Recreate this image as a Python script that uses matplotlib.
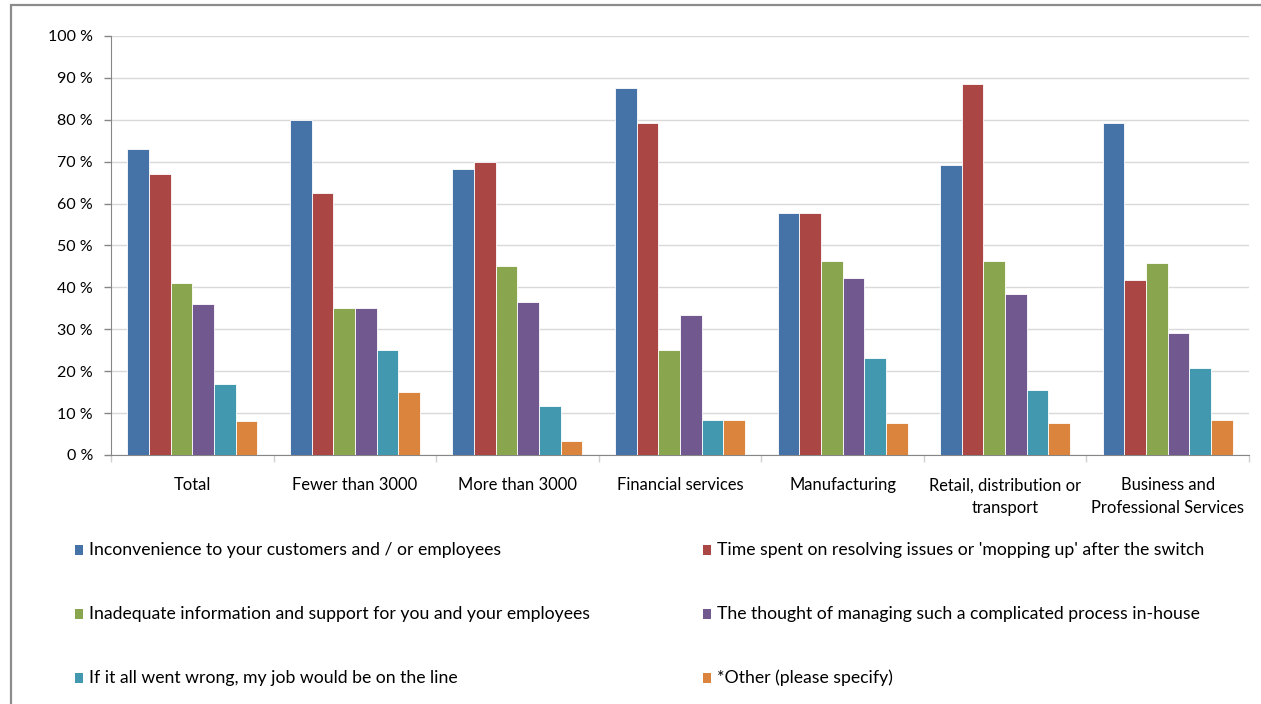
import matplotlib
matplotlib.use("Agg")
import matplotlib.pyplot as plt
from matplotlib.patches import Rectangle
import numpy as np

categories = [
    "Total",
    "Fewer than 3000",
    "More than 3000",
    "Financial services",
    "Manufacturing",
    "Retail, distribution or\ntransport",
    "Business and\nProfessional Services",
]

series_names = [
    "Inconvenience to your customers and / or employees",
    "Time spent on resolving issues or 'mopping up' after the switch",
    "Inadequate information and support for you and your employees",
    "The thought of managing such a complicated process in-house",
    "If it all went wrong, my job would be on the line",
    "*Other (please specify)",
]

# percentages per series, one value per category
inconvenience = [73.0, 80.0, 68.3, 87.5, 57.7, 69.2, 79.2]
time_spent = [67.0, 62.5, 70.0, 79.2, 57.7, 88.5, 41.7]
inadequate_info = [41.0, 35.0, 45.0, 25.0, 46.2, 46.2, 45.8]
managing_in_house = [36.0, 35.0, 36.5, 33.3, 42.3, 38.5, 29.2]
job_on_line = [17.0, 25.0, 11.6, 8.3, 23.1, 15.4, 20.8]
other = [8.0, 15.0, 3.3, 8.3, 7.7, 7.7, 8.3]

series_values = [inconvenience, time_spent, inadequate_info,
                 managing_in_house, job_on_line, other]
colors = ["#4572A7", "#AA4643", "#89A54E", "#71588F", "#4198AF", "#DB843D"]

plt.rcParams['font.family'] = ['Lato', 'DejaVu Sans']
W, H = 1261, 704
fig = plt.figure(figsize=(W / 100, H / 100), dpi=100)

# outer chart frame
fig.add_artist(Rectangle((11 / W, -0.1), 1.2, (H - 5) / H + 0.1,
                         transform=fig.transFigure, fill=False,
                         edgecolor="#8c8c8c", linewidth=1.6))

ax = fig.add_axes([111 / W, 249 / H, (1249 - 111) / W, 419 / H])

n_series = len(series_values)
x = np.arange(len(categories))
bar_w = 0.8 / n_series
for i, (vals, c) in enumerate(zip(series_values, colors)):
    offs = (i - (n_series - 1) / 2) * bar_w
    ax.bar(x + offs, vals, width=bar_w, color=c, edgecolor="white",
           linewidth=0.6, zorder=3)

ax.set_xlim(-0.5, len(categories) - 0.5)
ax.set_ylim(0, 100)
ax.set_yticks(np.arange(0, 101, 10))
ax.set_yticklabels([f"{v} %" for v in range(0, 101, 10)], fontsize=11.5,
                   color="#000000")
ax.yaxis.grid(True, color="#d9d9d9", linewidth=1, zorder=0)
ax.set_axisbelow(True)
ax.tick_params(axis="y", length=5, width=1, color="#868686", pad=8)

# category boundary ticks, labels at group centres
ax.set_xticks(np.arange(-0.5, len(categories), 1.0))
ax.set_xticklabels([])
ax.tick_params(axis="x", which="major", length=5, width=1, color="#d0d0d0")
ax.set_xticks(x, minor=True)
ax.set_xticklabels(categories, minor=True, fontsize=11.9, linespacing=1.5)
ax.tick_params(axis="x", which="minor", length=0, pad=16)

for side in ("top", "right"):
    ax.spines[side].set_visible(False)
ax.spines["left"].set_color("#868686")
ax.spines["bottom"].set_color("#868686")

# legend: two columns, three rows
col_x = [75, 703]
row_y = [550, 614, 678]
for i, (name, c) in enumerate(zip(series_names, colors)):
    cx = col_x[i % 2]
    cy = row_y[i // 2]
    fig.add_artist(Rectangle((cx / W, (H - cy - 5) / H), 8 / W, 10 / H,
                             transform=fig.transFigure, facecolor=c,
                             edgecolor="none"))
    fig.text((cx + 14) / W, (H - cy) / H, name, fontsize=12.7,
             va="center", ha="left")

fig.savefig("out.png", dpi=100)
